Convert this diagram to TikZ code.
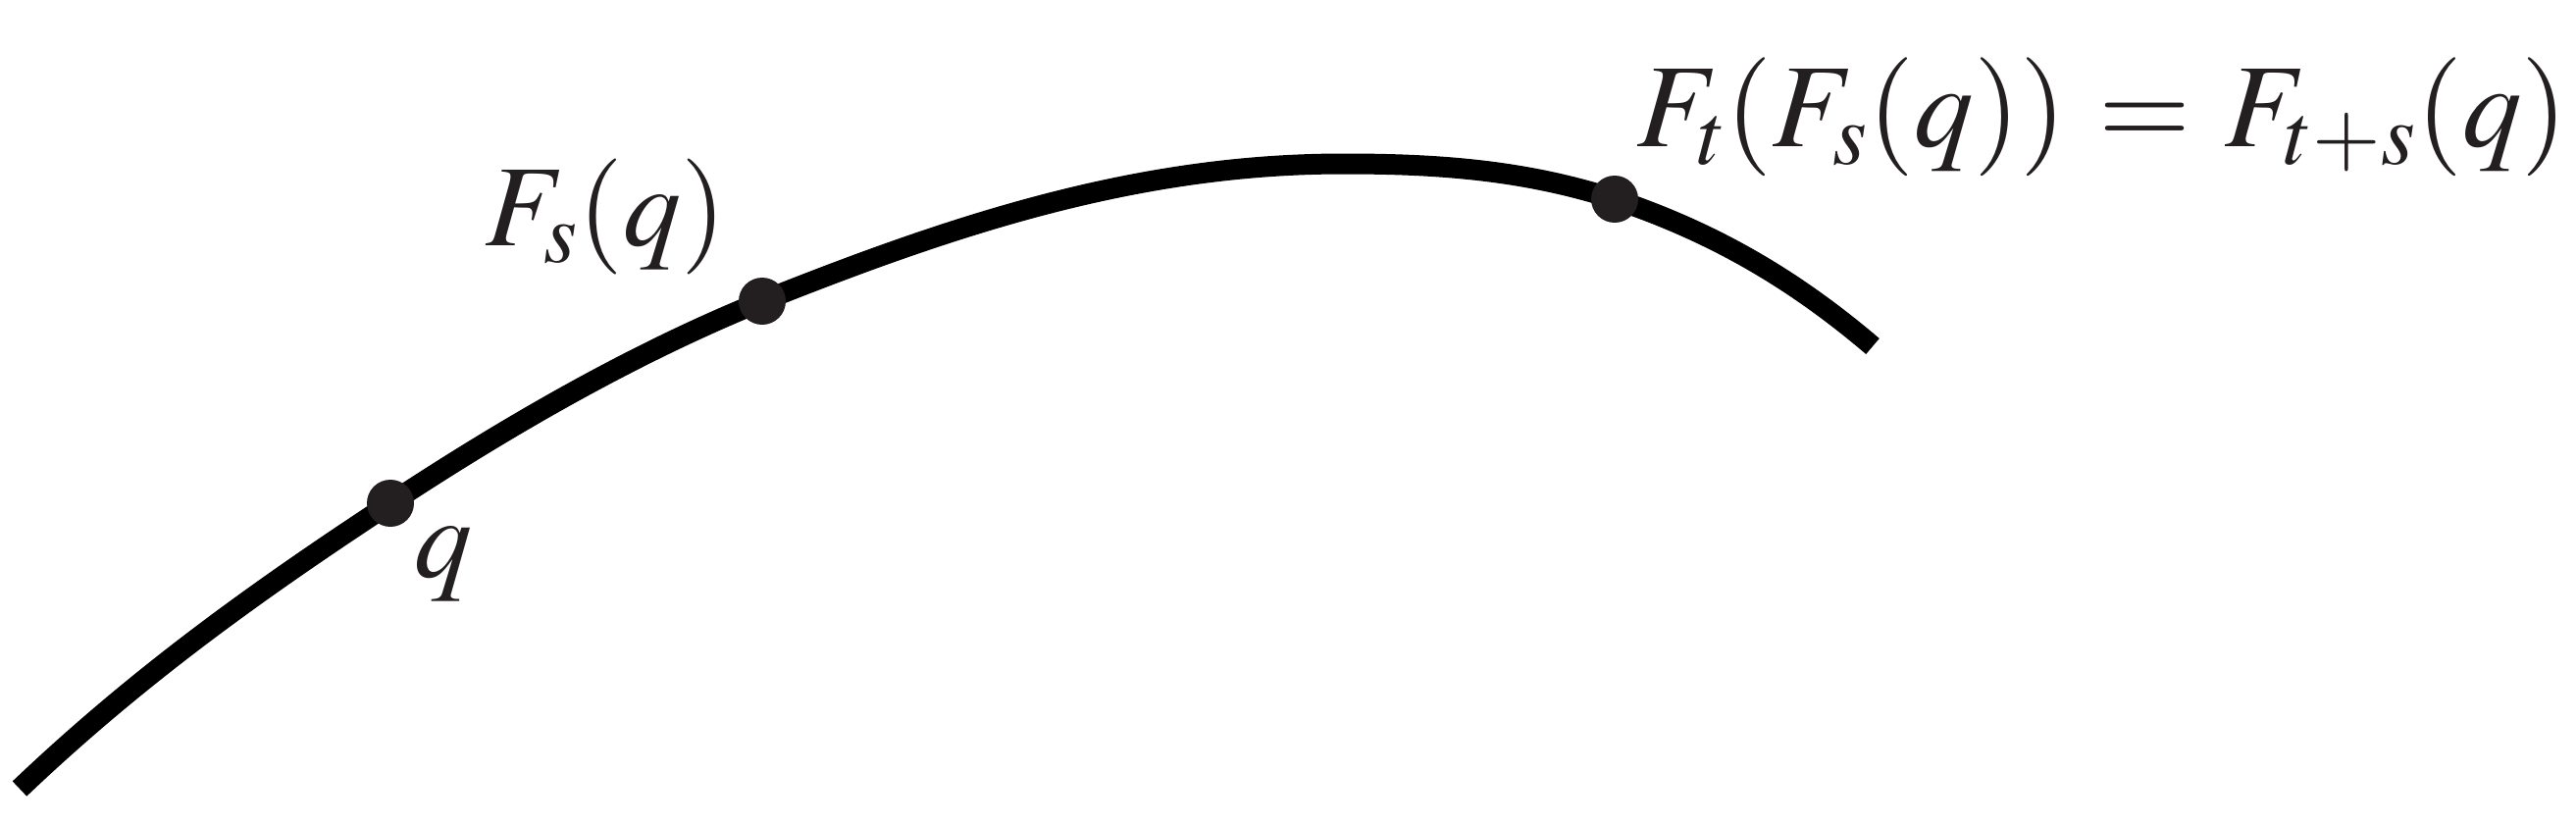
\documentclass[tikz,border=0pt]{standalone}
\usepackage{mathptmx}
\definecolor{ink}{HTML}{231F20}
\begin{document}
\begin{tikzpicture}[x=0.5pt,y=-0.5pt,
  curve/.style={line width=10.5pt,black,line cap=butt},
  dot/.style={circle,fill=ink,inner sep=0pt,minimum size=24pt},
  lbl/.style={anchor=base west,inner sep=0pt,text=ink,font=\fontsize{59}{71}\selectfont}]
\useasboundingbox (0,0) rectangle (2626,840);
\coordinate (a) at (20,804);
\coordinate (p) at (1370,167);
\coordinate (e) at (1909,353);
\coordinate (q) at (398,513);
\coordinate (fs) at (777,307);
\coordinate (ft) at (1646,203);
\draw[curve] (a) .. controls (146,684) and (272,596) .. (q)
  .. controls (524,430) and (651,358) .. (fs)
  .. controls (975,228) and (1160,167) .. (p)
  .. controls (1470,167) and (1556,174) .. (ft)
  .. controls (1738,234) and (1821,278) .. (e);
\node[dot] (dq) at (q) {};
\node[dot] (dfs) at (fs) {};
\node[dot] (dft) at (ft) {};
\node[lbl] (lq) at (422,588) {$q$};
\node[lbl] (lfs) at (494,250) {$F_s(q)$};
\node[lbl,font=\fontsize{60.5}{72}\selectfont] (leq) at (1668,149) {$F_t(F_s(q))\mskip1mu=\mskip1mu F_{t+s}(q)$};
\end{tikzpicture}
\end{document}
